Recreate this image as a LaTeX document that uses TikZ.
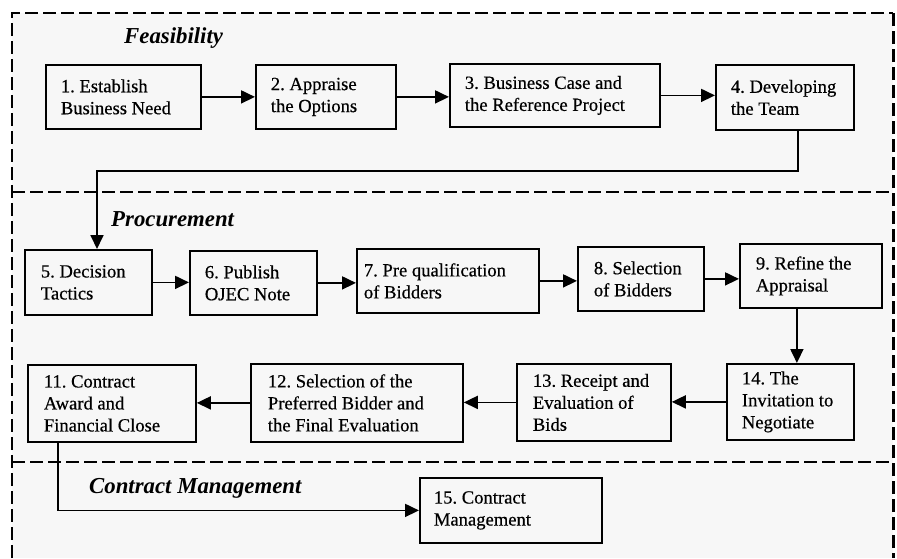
\documentclass[tikz,border=0pt]{standalone}
\usepackage{fontspec}
\setmainfont{Liberation Serif}
\newfontfamily\stagefont{Liberation Serif}[FakeBold=0.5]
\usetikzlibrary{arrows.meta,calc}
\begin{document}
\begin{tikzpicture}[x=1pt,y=-1pt,
  stage/.style={draw, line width=1.8pt, inner ysep=0pt,
    align=flush left, anchor=north west,
    font=\stagefont\fontsize{18.6}{22}\selectfont\frenchspacing},
  phase/.style={anchor=base west, inner sep=0pt,
    font=\fontsize{22.8}{26}\selectfont\bfseries\itshape},
  flow/.style={line width=1.8pt, -{Triangle[length=14pt,width=13pt]}},
  frame/.style={line width=2pt, dash pattern=on 13pt off 5pt}]
\useasboundingbox (0,0) rectangle (897,558);
\fill[white] (0,0) rectangle (897,558);
\fill[gray!6] (12,13) rectangle (893,558);

% phase frame and separators
\draw[frame] (12,558) -- (12,13) -- (893,13);
\draw[frame, line width=3pt] (893,13) -- (893,558);
\draw[frame] (12,192) -- (893,192);
\draw[frame] (12,462) -- (893,462);

% phase titles
\node[phase] (feas) at (124,43) {Feasibility};
\node[phase] (proc) at (111,226) {Procurement};
\node[phase] (cman) at (89,493) {Contract Management};

% feasibility stages
\node[stage, inner xsep=15pt, text width=125pt, minimum height=64pt] (n1) at (45,64) {1. Establish\\Business Need};
\node[stage, inner xsep=15pt, text width=110pt, minimum height=64pt] (n2) at (255,64) {2. Appraise\\the Options};
\node[stage, inner xsep=15pt, text width=180pt, minimum height=63pt] (n3) at (449,63) {3. Business Case and\\the Reference Project};
\node[stage, inner xsep=15pt, text width=108pt, minimum height=65pt] (n4) at (715,64) {4. Developing\\the Team};

% procurement stages, upper row
\node[stage, inner xsep=16pt, text width=95pt, minimum height=65pt] (n5) at (24,249) {5. Decision\\Tactics};
\node[stage, inner xsep=15pt, text width=97pt, minimum height=64pt] (n6) at (189,250) {6. Publish\\OJEC Note};
\node[stage, inner xsep=7pt, text width=168pt, minimum height=64pt] (n7) at (356,248) {7. Pre qualification\\of Bidders};
\node[stage, inner xsep=16pt, text width=94pt, minimum height=64pt] (n8) at (577,246) {8. Selection\\of Bidders};
\node[stage, inner xsep=16pt, text width=110pt, minimum height=64pt] (n9) at (739,243) {9. Refine the\\Appraisal};

% procurement stages, lower row
\node[stage, inner xsep=15pt, text width=97pt, minimum height=76pt] (n14) at (726,363) {14. The\\Invitation to\\Negotiate};
\node[stage, inner xsep=16pt, text width=122pt, minimum height=77pt] (n13) at (516,363) {13. Receipt and\\Evaluation of\\Bids};
\node[stage, inner xsep=17pt, text width=178pt, minimum height=78pt] (n12) at (250,363) {12. Selection of the\\Preferred Bidder and\\the Final Evaluation};
\node[stage, inner xsep=16pt, text width=136pt, minimum height=77pt] (n11) at (27,364) {11. Contract\\Award and\\Financial Close};

% contract management stage
\node[stage, inner xsep=14pt, text width=154pt, minimum height=65pt] (n15) at (419,477) {15. Contract\\Management};

% connectors
\draw[flow] (n1.east) -- (n1.east -| n2.west);
\draw[flow] (n2.east) -- (n2.east -| n3.west);
\draw[flow] (n3.east) -- (n3.east -| n4.west);

\coordinate (d4) at ([xshift=13pt]n4.south);
\coordinate (t45) at (97,171);
\draw[flow] (d4) |- (t45) -- (t45 |- n5.north);

\draw[flow] (n5.east) -- (n5.east -| n6.west);
\draw[flow] (n6.east) -- (n6.east -| n7.west);
\draw[flow] (n7.east) -- (n7.east -| n8.west);
\draw[flow] (n8.east) -- (n8.east -| n9.west);

\coordinate (d9) at ([xshift=-14pt]n9.south);
\draw[flow] (d9) -- (d9 |- n14.north);

\draw[flow] (n14.west) -- (n14.west -| n13.east);
\draw[flow] (n13.west) -- (n13.west -| n12.east);
\draw[flow] (n12.west) -- (n12.west -| n11.east);

\coordinate (d11) at ([xshift=-54pt]n11.south);
\draw[flow] (d11) |- (n15.west);
\end{tikzpicture}
\end{document}
